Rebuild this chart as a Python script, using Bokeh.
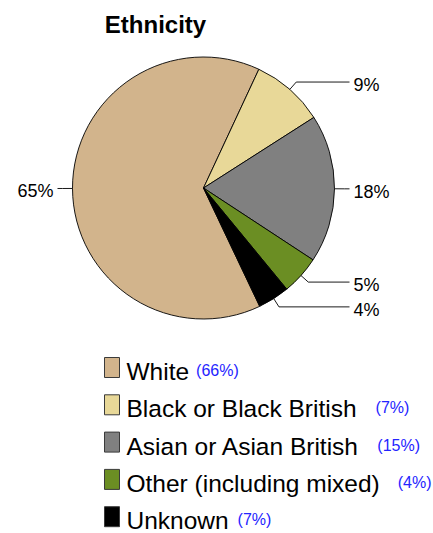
import math
from bokeh.plotting import figure
from bokeh.models import Range1d, ColumnDataSource
from bokeh.core.properties import value
from bokeh.embed import file_html
from bokeh.resources import INLINE

# ---- data ----
categories = ["White", "Black or Black British", "Asian or Asian British",
              "Other (including mixed)", "Unknown"]
shares = [64.0, 9.0, 18.3, 4.8, 3.9]            # pie slice shares (%)
pie_labels = ["65%", "9%", "18%", "5%", "4%"]
legend_pct = ["(66%)", "(7%)", "(15%)", "(4%)", "(7%)"]
colors = ["#D2B48C", "#E8D898", "#808080", "#6B8E23", "#000000"]
title_text = "Ethnicity"

# ---- layout ----
W, H = 433, 533
FONT = "Liberation Sans"
def Y(py):
    return H - py

p = figure(width=W, height=H, x_range=Range1d(0, W), y_range=Range1d(0, H),
           output_backend="svg", toolbar_location=None, min_border=0,
           x_axis_location=None, y_axis_location=None)
p.grid.visible = False
p.outline_line_color = None
p.background_fill_color = "white"
p.border_fill_color = "white"

cx, cy, r = 203, Y(187.5), 131
white_end = 25.0  # clockwise degrees from top where first slice ends
total = sum(shares)
t = white_end - shares[0] / total * 360.0
starts, ends = [], []
for v in shares:
    ts = t
    te = t + v / total * 360.0
    starts.append(ts)
    ends.append(te)
    t = te

src = ColumnDataSource(dict(
    start=[math.radians(90 - te) for te in ends],
    end=[math.radians(90 - ts) for ts in starts],
    color=colors))
p.wedge(x=cx, y=cy, radius=r, start_angle="start", end_angle="end",
        fill_color="color", line_color="black", line_width=0.9, source=src)

# leader lines and labels
xs, ys, lx, ly, la = [], [], [], [], []
for ts, te, lab in zip(starts, ends, pie_labels):
    m = math.radians((ts + te) / 2)
    ux, uy = math.sin(m), math.cos(m)
    side = 1 if ux > 0 else -1
    x1, y1 = cx + r * ux, cy + r * uy
    x2, y2 = cx + 1.075 * r * ux, cy + 1.075 * r * uy
    x3 = cx + side * 146
    xs.append([x1, x2, x3])
    ys.append([y1, y2, y2])
    lx.append(cx + side * 150)
    ly.append(y2 - 3)
    la.append("left" if side > 0 else "right")
p.multi_line(xs=xs, ys=ys, line_color="black", line_width=0.9)
p.text(x=lx, y=ly, text=pie_labels, text_align=la, text_baseline="middle",
       text_font=value(FONT), text_font_size="18px", text_color="black")

# title (vertical centre of text)
p.text(x=[155], y=[Y(24)], text=[title_text], text_align="center",
       text_baseline="middle", text_font=value(FONT), text_font_size="24px",
       text_font_style="bold", text_color="black")

# legend
arial = {' ': 278, 'W': 944, 'h': 556, 'i': 222, 't': 278, 'e': 556, 'B': 667,
         'l': 222, 'a': 556, 'c': 500, 'k': 500, 'o': 556, 'r': 333, 's': 500,
         'A': 667, 'n': 556, 'O': 778, '(': 333, ')': 333, 'u': 556, 'd': 556,
         'g': 556, 'm': 833, 'x': 500, 'U': 722, 'w': 722}
LEG_FS = 24.5
pct_gap = [7, 19, 18, 18, 9]
row = 37.3
n = len(categories)
p.quad(left=[104] * n, right=[119] * n,
       top=[Y(357 + row * i) for i in range(n)],
       bottom=[Y(377 + row * i) for i in range(n)],
       fill_color=colors, line_color="#3a3a3a", line_width=1)
p.text(x=[126] * n, y=[Y(371 + row * i) for i in range(n)], text=categories,
       text_align="left", text_baseline="middle", text_font=value(FONT),
       text_font_size=f"{LEG_FS}px", text_color="black")
px = [126 + sum(arial.get(ch, 556) for ch in c) * LEG_FS / 1000 + g
      for c, g in zip(categories, pct_gap)]
p.text(x=px, y=[Y(370 + row * i) for i in range(n)], text=legend_pct,
       text_align="left", text_baseline="middle", text_font=value(FONT),
       text_font_size="16px", text_color="#2424FF")

open("out.html", "w").write(file_html(p, INLINE))
